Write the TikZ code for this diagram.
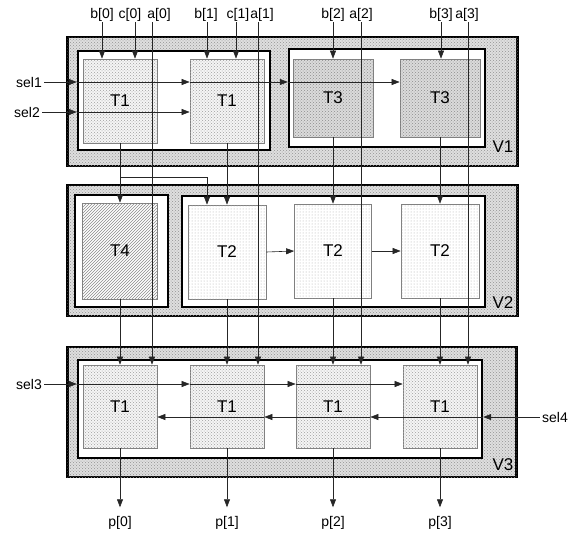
\documentclass[tikz,border=0pt]{standalone}
\usepackage{fontspec}
\setmainfont{Liberation Sans}
\usetikzlibrary{arrows.meta,patterns}
\begin{document}
\begin{tikzpicture}[x=1pt, y=-1pt,
    block/.style={draw=black, line width=2.4pt, fill=gray!25, postaction={pattern=crosshatch dots, pattern color=gray!85}},
    frame/.style={draw=black, line width=2.4pt, fill=white},
    tile/.style={draw=gray, line width=0.7pt, inner sep=0pt, font=\fontsize{17}{19}\selectfont},
    tone1/.style={tile, fill=gray!8, postaction={pattern=crosshatch dots, pattern color=gray!75}},
    tone2/.style={tile, fill=white, postaction={pattern=dots, pattern color=gray!65}},
    tone3/.style={tile, fill=gray!28, postaction={pattern=crosshatch dots, pattern color=gray!90}},
    tone4/.style={tile, fill=white, postaction={pattern=north east lines, pattern color=gray!90}},
    lbl/.style={inner sep=2pt, font=\fontsize{14}{16}\selectfont},
    vlbl/.style={inner sep=0pt, font=\fontsize{17}{19}\selectfont},
    wire/.style={draw=black!85, line width=0.6pt},
    sig/.style={wire, -{Triangle[length=8pt,width=6pt]}}]
  \useasboundingbox (0,0) rectangle (569,533);

  % blocks V1, V2, V3
  \node[block, minimum width=450, minimum height=129] (blk1) at (292.5,101.5) {};
  \node[block, minimum width=450, minimum height=131] (blk2) at (292.5,250.5) {};
  \node[block, minimum width=449, minimum height=130] (blk3) at (292,412) {};
  \node[vlbl] (v1) at (503,147) {V1};
  \node[vlbl] (v2) at (503,303) {V2};
  \node[vlbl] (v3) at (503,465) {V3};

  % inner frames
  \node[frame, minimum width=192, minimum height=99] (frm1a) at (174,100.5) {};
  \node[frame, minimum width=196, minimum height=98] (frm1b) at (387,98) {};
  \node[frame, minimum width=93, minimum height=112] (frm2a) at (121.5,251) {};
  \node[frame, minimum width=303, minimum height=111] (frm2b) at (333.5,251.5) {};
  \node[frame, minimum width=404, minimum height=98] (frm3) at (280,409) {};

  % tiles
  \node[tone1, minimum width=74, minimum height=84] (t1a) at (120,101) {T1};
  \node[tone1, minimum width=74, minimum height=84] (t1b) at (227,101) {T1};
  \node[tone3, minimum width=80, minimum height=78] (t3a) at (333,98) {T3};
  \node[tone3, minimum width=80, minimum height=78] (t3b) at (440,98) {T3};
  \node[tone4, minimum width=75, minimum height=96] (t4) at (120,251) {T4};
  \node[tone2, minimum width=78, minimum height=94] (t2a) at (227,252) {T2};
  \node[tone2, minimum width=77, minimum height=94] (t2b) at (333,251) {T2};
  \node[tone2, minimum width=78, minimum height=94] (t2c) at (440,251) {T2};
  \foreach \n/\x in {v3a/120, v3b/227, v3c/333, v3d/440}
    \node[tone1, minimum width=74, minimum height=83] (\n) at (\x,406.5) {T1};

  % top inputs
  \foreach \t/\x in {b[0]/102, c[0]/130, a[0]/159, b[1]/206, c[1]/238, a[1]/262, b[2]/333, a[2]/361, b[3]/441, a[3]/467}
    \node[lbl] at (\x,15) {\t};
  \foreach \n/\x in {b0/102, c0/135, a0/152, b1/207, c1/236, a1/258, b2/333, a2/361, b3/441, a3/468}
    \coordinate (\n) at (\x,22);
  \foreach \n/\t in {b0/t1a, c0/t1a, b1/t1b, c1/t1b, b2/t3a, b3/t3b, a0/v3a, a1/v3b, a2/v3c, a3/v3d}
    \draw[sig] (\n) -- (\n |- \t.north);

  % select lines
  \node[lbl] (sel1) at (29,82) {sel1};
  \node[lbl] (sel2) at (27,112) {sel2};
  \node[lbl] (sel3) at (29,384) {sel3};
  \node[lbl] (sel4) at (555,417) {sel4};
  \draw[sig] (sel1.east) -- (sel1 -| frm1a.west);
  \draw[sig] (sel1 -| frm1a.west) -- (sel1 -| t1b.west);
  \draw[sig] (sel1 -| t1b.west) -- (sel1 -| frm1b.west);
  \draw[sig] (sel1 -| frm1b.west) -- (sel1 -| t3b.west);
  \draw[sig] (sel2.east) -- (sel2 -| frm1a.west);
  \draw[sig] (sel2 -| frm1a.west) -- (sel2 -| t1b.west);
  \draw[sig] (sel3.east) -- (sel3 -| frm3.west);
  \draw[sig] (sel3 -| frm3.west) -- (sel3 -| v3b.west);
  \draw[sig] (sel3 -| v3b.west) -- (sel3 -| v3c.west);
  \draw[sig] (sel3 -| v3c.west) -- (sel3 -| v3d.west);
  \draw[sig] (sel4.west) -- (sel4 -| frm3.east);
  \draw[sig] (sel4 -| frm3.east) -- (sel4 -| v3c.east);
  \draw[sig] (sel4 -| v3c.east) -- (sel4 -| v3b.east);
  \draw[sig] (sel4 -| v3b.east) -- (sel4 -| v3a.east);

  % V1 to V2
  \coordinate (split) at (120,177);
  \coordinate (t2in) at (207,177);
  \draw[sig] (t1a.south) -- (t4.north);
  \draw[sig] (split) -- (t2in) -- (t2in |- t2a.north);
  \draw[sig] (t1b.south) -- (t1b.south |- t2a.north);
  \draw[sig] (t3a.south) -- (t3a.south |- t2b.north);
  \draw[sig] (t3b.south) -- (t3b.south |- t2c.north);
  \draw[sig] (t2a.east) -- (t2b.west);
  \draw[sig] (t2b.east) -- (t2c.west);

  % V2 to V3
  \draw[sig] (t4.south) -- (v3a.north);
  \draw[sig] (t2a.south) -- (v3b.north);
  \draw[sig] (t2b.south) -- (v3c.north);
  \draw[sig] (t2c.south) -- (v3d.north);

  % outputs
  \foreach \n/\k in {v3a/0, v3b/1, v3c/2, v3d/3} {
    \node[lbl] (p\k) at (\n.south |- 0,523) {p[\k]};
    \draw[sig, shorten >=7pt] (\n.south) -- (p\k.north);
  }
\end{tikzpicture}
\end{document}
